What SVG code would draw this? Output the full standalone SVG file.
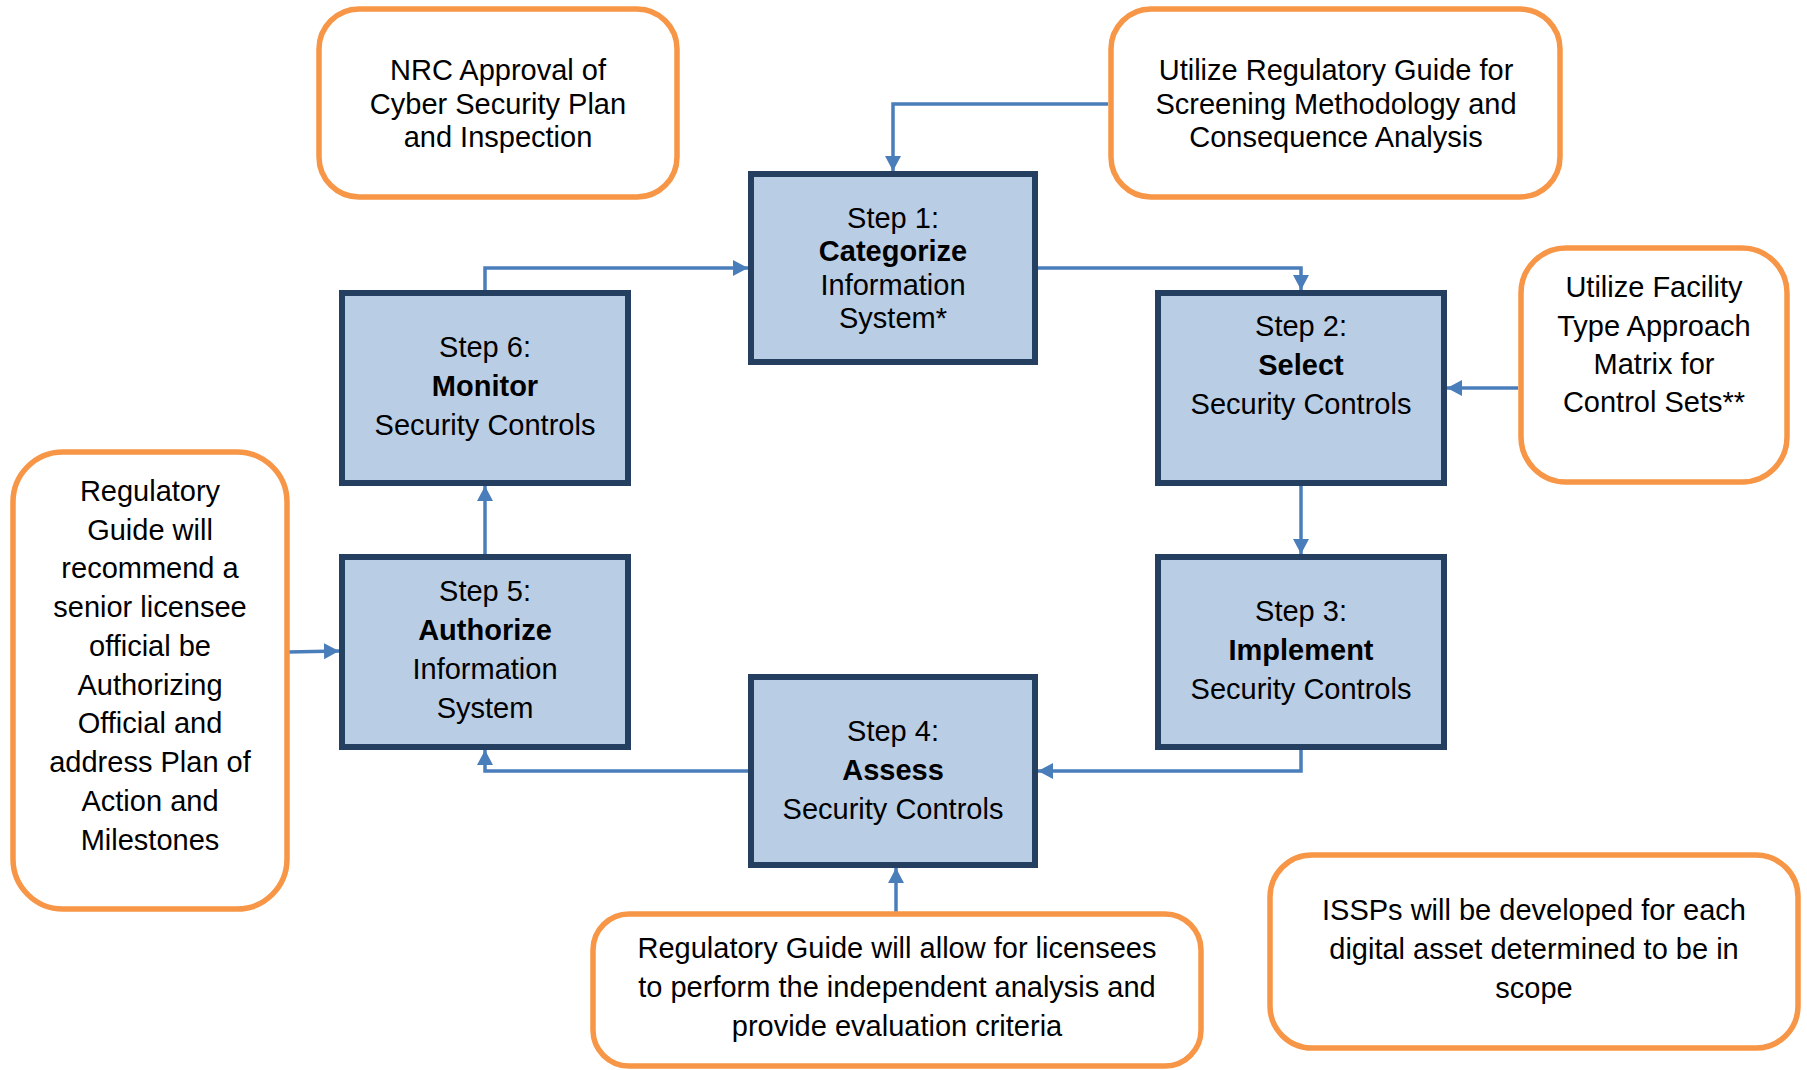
<svg xmlns="http://www.w3.org/2000/svg" width="1807" height="1070" viewBox="0 0 1807 1070">
<style>
.note{fill:#FFFFFF;stroke:#F79646;stroke-width:5.5}
.step{fill:#B9CDE5;stroke:#243F60;stroke-width:6}
.t{font-family:"Liberation Sans",Arial,sans-serif;font-size:29px;fill:#000;text-anchor:middle}
.b{font-weight:bold}
.c{fill:none;stroke:#4A7EBB;stroke-width:3.5;marker-end:url(#ah)}
</style>
<defs>
<marker id="ah" markerUnits="userSpaceOnUse" markerWidth="16" markerHeight="17" refX="15" refY="8" orient="auto">
<path d="M0,0 L15,8 L0,16 z" fill="#4A7EBB"/>
</marker>
</defs>
<rect width="1807" height="1070" fill="#FFFFFF"/>
<g id="connectors">
<path class="c" d="M1108,104 H893 V171"/>
<path class="c" d="M1038,268 H1301 V290"/>
<path class="c" d="M485,290 V268 H748"/>
<path class="c" d="M1518,388 H1447"/>
<path class="c" d="M1301,486 V554"/>
<path class="c" d="M1301,750 V771 H1038"/>
<path class="c" d="M748,771 H485 V750"/>
<path class="c" d="M485,554 V486"/>
<path class="c" d="M288,652 L339,651"/>
<path class="c" d="M896,912 V868"/>
</g>
<g id="note-nrc">
<rect class="note" x="319" y="9" width="358" height="188" rx="40"/>
<text class="t" x="498" y="80">NRC Approval of</text>
<text class="t" x="498" y="114">Cyber Security Plan</text>
<text class="t" x="498" y="147">and Inspection</text>
</g>
<g id="note-screening">
<rect class="note" x="1111" y="9" width="449" height="188" rx="40"/>
<text class="t" x="1336" y="80">Utilize Regulatory Guide for</text>
<text class="t" x="1336" y="114">Screening Methodology and</text>
<text class="t" x="1336" y="147">Consequence Analysis</text>
</g>
<g id="note-facility">
<rect class="note" x="1521" y="248" width="266" height="234" rx="45"/>
<text class="t" x="1654" y="297">Utilize Facility</text>
<text class="t" x="1654" y="336">Type Approach</text>
<text class="t" x="1654" y="374">Matrix for</text>
<text class="t" x="1654" y="412">Control Sets**</text>
</g>
<g id="note-authorizing">
<rect class="note" x="13" y="452" width="274" height="457" rx="50"/>
<text class="t" x="150" y="501">Regulatory</text>
<text class="t" x="150" y="540">Guide will</text>
<text class="t" x="150" y="578">recommend a</text>
<text class="t" x="150" y="617">senior licensee</text>
<text class="t" x="150" y="656">official be</text>
<text class="t" x="150" y="695">Authorizing</text>
<text class="t" x="150" y="733">Official and</text>
<text class="t" x="150" y="772">address Plan of</text>
<text class="t" x="150" y="811">Action and</text>
<text class="t" x="150" y="850">Milestones</text>
</g>
<g id="note-assess">
<rect class="note" x="593" y="914" width="608" height="152" rx="36"/>
<text class="t" x="897" y="958">Regulatory Guide will allow for licensees</text>
<text class="t" x="897" y="997">to perform the independent analysis and</text>
<text class="t" x="897" y="1036">provide evaluation criteria</text>
</g>
<g id="note-issps">
<rect class="note" x="1270" y="855" width="528" height="193" rx="42"/>
<text class="t" x="1534" y="920">ISSPs will be developed for each</text>
<text class="t" x="1534" y="959">digital asset determined to be in</text>
<text class="t" x="1534" y="998">scope</text>
</g>
<g id="step1">
<rect class="step" x="751" y="174" width="284" height="188"/>
<text class="t" x="893" y="228">Step 1:</text>
<text class="t b" x="893" y="261">Categorize</text>
<text class="t" x="893" y="295">Information</text>
<text class="t" x="893" y="328">System*</text>
</g>
<g id="step2">
<rect class="step" x="1158" y="293" width="286" height="190"/>
<text class="t" x="1301" y="336">Step 2:</text>
<text class="t b" x="1301" y="375">Select</text>
<text class="t" x="1301" y="414">Security Controls</text>
</g>
<g id="step3">
<rect class="step" x="1158" y="557" width="286" height="190"/>
<text class="t" x="1301" y="621">Step 3:</text>
<text class="t b" x="1301" y="660">Implement</text>
<text class="t" x="1301" y="699">Security Controls</text>
</g>
<g id="step4">
<rect class="step" x="751" y="677" width="284" height="188"/>
<text class="t" x="893" y="741">Step 4:</text>
<text class="t b" x="893" y="780">Assess</text>
<text class="t" x="893" y="819">Security Controls</text>
</g>
<g id="step5">
<rect class="step" x="342" y="557" width="286" height="190"/>
<text class="t" x="485" y="601">Step 5:</text>
<text class="t b" x="485" y="640">Authorize</text>
<text class="t" x="485" y="679">Information</text>
<text class="t" x="485" y="718">System</text>
</g>
<g id="step6">
<rect class="step" x="342" y="293" width="286" height="190"/>
<text class="t" x="485" y="357">Step 6:</text>
<text class="t b" x="485" y="396">Monitor</text>
<text class="t" x="485" y="435">Security Controls</text>
</g>
</svg>
